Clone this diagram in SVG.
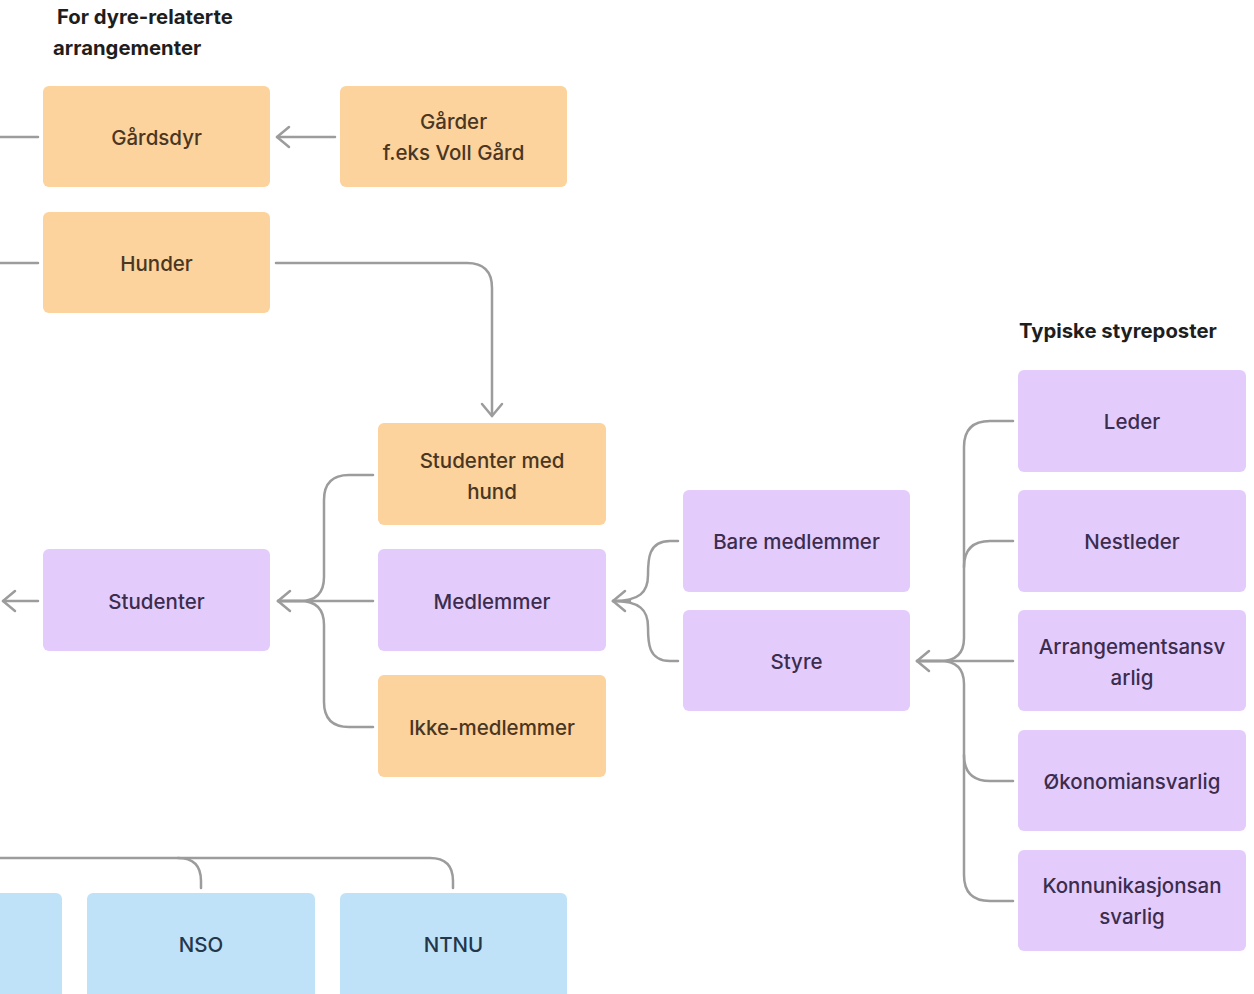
<svg xmlns="http://www.w3.org/2000/svg" width="1254" height="994" viewBox="0 0 1254 994">
<style>
.bg{fill:#ffffff}
.o{fill:#FCD29D}
.p{fill:#E3CCFC}
.b{fill:#BFE2F9}
.t{font-family:Inter,"Noto Sans","Liberation Sans",sans-serif;font-size:20.5px;font-weight:500;text-anchor:middle;dominant-baseline:central}
.to{fill:#4a3622}
.tp{fill:#3c2c4e}
.tb{fill:#24364a}
.h{font-family:Inter,"Noto Sans","Liberation Sans",sans-serif;font-size:20.3px;font-weight:700;fill:#1e1e1e}
.c{fill:none;stroke:#9c9c9c;stroke-width:2.5;stroke-linecap:round;stroke-linejoin:round}
</style>
<defs>
<marker id="ah" markerUnits="userSpaceOnUse" markerWidth="30" markerHeight="30" viewBox="-15 -15 30 30" refX="0" refY="0" orient="auto">
<path d="M-12,-10 L0,0 L-12,10" fill="none" stroke="#9c9c9c" stroke-width="2.5" stroke-linecap="round" stroke-linejoin="round"/>
</marker>
</defs>
<rect class="bg" x="0" y="0" width="1254" height="994"/>
<text class="h" x="57" y="24">For dyre-relaterte</text>
<text class="h" x="53" y="55">arrangementer</text>
<text class="h" x="1019" y="338">Typiske styreposter</text>

<g id="connectors">
<path class="c" d="M0,137 H38"/>
<path class="c" d="M0,263 H38"/>
<path class="c" d="M38,601 H3" marker-end="url(#ah)"/>
<path class="c" d="M335,137 H277" marker-end="url(#ah)"/>
<path class="c" d="M276,263 H467 Q492,263 492,288 V416" marker-end="url(#ah)"/>
<path class="c" d="M373,475 H349 Q324,475 324,500 V577 Q324,601 300,601 H278"/>
<path class="c" d="M373,727 H349 Q324,727 324,702 V625 Q324,601 300,601 H278"/>
<path class="c" d="M373,601 H278" marker-end="url(#ah)"/>
<path class="c" d="M678,541 H670 C648,541 648,560 648,575 C648,592 640,601 613,601"/>
<path class="c" d="M678,661 H670 C648,661 648,642 648,627 C648,610 640,601 613,601"/>
<path class="c" d="M630,601 H613" marker-end="url(#ah)"/>
<path class="c" d="M1013,421 H990 Q964,421 964,447 V638 Q964,661 940,661 H917"/>
<path class="c" d="M1013,901 H990 Q964,901 964,875 V684 Q964,661 940,661 H917"/>
<path class="c" d="M1013,541 H990 Q964,541 964,567"/>
<path class="c" d="M1013,781 H990 Q964,781 964,755"/>
<path class="c" d="M1013,661 H917" marker-end="url(#ah)"/>
<path class="c" d="M0,858 H430 Q453,858 453,881 V888"/>
<path class="c" d="M178,858 Q201,858 201,881 V888"/>
</g>

<g id="gardsdyr"><rect class="o" x="43" y="86" width="227" height="101" rx="6"/><text class="t to" x="156.5" y="137">Gårdsdyr</text></g>
<g id="garder"><rect class="o" x="340" y="86" width="227" height="101" rx="6"/><text class="t to" x="453.5" y="121">Gårder</text><text class="t to" x="453.5" y="152">f.eks Voll Gård</text></g>
<g id="hunder"><rect class="o" x="43" y="212" width="227" height="101" rx="6"/><text class="t to" x="156.5" y="263">Hunder</text></g>
<g id="studenter-med-hund"><rect class="o" x="378" y="423" width="228" height="102" rx="6"/><text class="t to" x="492" y="460">Studenter med</text><text class="t to" x="492" y="491">hund</text></g>
<g id="medlemmer"><rect class="p" x="378" y="549" width="228" height="102" rx="6"/><text class="t tp" x="492" y="601">Medlemmer</text></g>
<g id="ikke-medlemmer"><rect class="o" x="378" y="675" width="228" height="102" rx="6"/><text class="t to" x="492" y="727">Ikke-medlemmer</text></g>
<g id="studenter"><rect class="p" x="43" y="549" width="227" height="102" rx="6"/><text class="t tp" x="156.5" y="601">Studenter</text></g>
<g id="bare-medlemmer"><rect class="p" x="683" y="490" width="227" height="102" rx="6"/><text class="t tp" x="796.5" y="541">Bare medlemmer</text></g>
<g id="styre"><rect class="p" x="683" y="610" width="227" height="101" rx="6"/><text class="t tp" x="796.5" y="661">Styre</text></g>
<g id="leder"><rect class="p" x="1018" y="370" width="228" height="102" rx="6"/><text class="t tp" x="1132" y="421">Leder</text></g>
<g id="nestleder"><rect class="p" x="1018" y="490" width="228" height="102" rx="6"/><text class="t tp" x="1132" y="541">Nestleder</text></g>
<g id="arrangementsansvarlig"><rect class="p" x="1018" y="610" width="228" height="101" rx="6"/><text class="t tp" x="1132" y="646">Arrangementsansv</text><text class="t tp" x="1132" y="677">arlig</text></g>
<g id="okonomiansvarlig"><rect class="p" x="1018" y="730" width="228" height="101" rx="6"/><text class="t tp" x="1132" y="781">Økonomiansvarlig</text></g>
<g id="kommunikasjonsansvarlig"><rect class="p" x="1018" y="850" width="228" height="101" rx="6"/><text class="t tp" x="1132" y="885">Konnunikasjonsan</text><text class="t tp" x="1132" y="916">svarlig</text></g>
<g id="blue-left"><rect class="b" x="-20" y="893" width="82" height="110" rx="6"/></g>
<g id="nso"><rect class="b" x="87" y="893" width="228" height="110" rx="6"/><text class="t tb" x="201" y="944">NSO</text></g>
<g id="ntnu"><rect class="b" x="340" y="893" width="227" height="110" rx="6"/><text class="t tb" x="453.5" y="944">NTNU</text></g>
</svg>
